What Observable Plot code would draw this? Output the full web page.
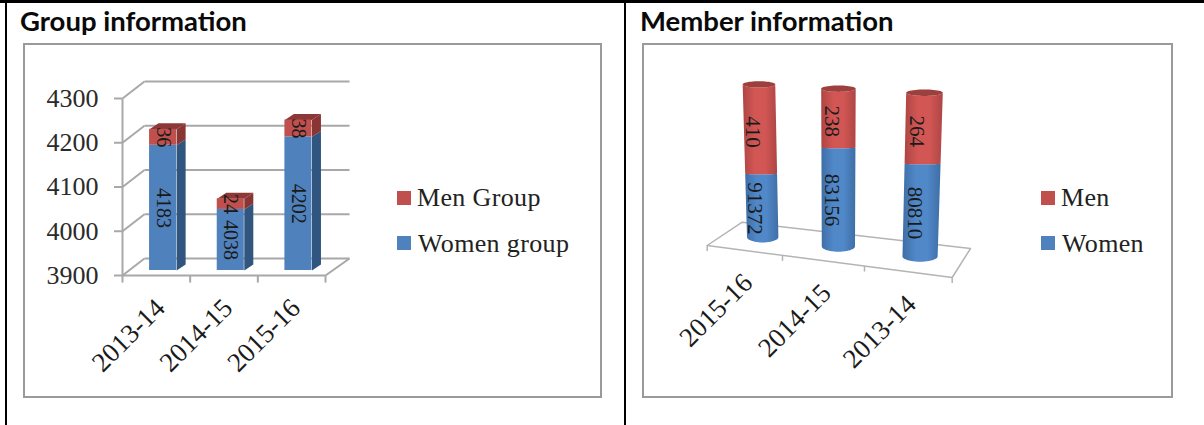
<!DOCTYPE html>
<html>
<head>
<meta charset="utf-8">
<script src="https://cdn.jsdelivr.net/npm/d3@7"></script>
<script src="https://cdn.jsdelivr.net/npm/@observablehq/plot@0.6"></script>
<style>
  html, body { margin: 0; padding: 0; background: #fff; }
  #page { position: relative; width: 1204px; height: 425px; overflow: hidden; background: #fff; }
  .frame { position: absolute; border: 2px solid #9a9a9a; box-sizing: border-box; top: 43px; height: 355px; }
  .rule { position: absolute; background: #000; }
  .title { position: absolute; top: 4px; font: 700 27.5px Lato, "Open Sans", sans-serif; color: #0a0a0a; white-space: nowrap; }
  .swatch { position: absolute; width: 14px; height: 14px; }
  .entry { position: absolute; font: 26px "Liberation Serif", serif; color: #222; letter-spacing: .35px; line-height: 28px; white-space: nowrap; }
  .panel { position: absolute; top: 0; }
  .panel svg { overflow: visible; display: block; }
</style>
</head>
<body>
<div id="page">
  <div class="rule" style="left:0;top:0;width:1204px;height:3px"></div>
  <div class="rule" style="left:5px;top:0;width:2px;height:425px"></div>
  <div class="rule" style="left:624px;top:0;width:2px;height:425px"></div>
  <div class="title" style="left:20px">Group information</div>
  <div class="title" style="left:640px">Member information</div>
  <div class="frame" style="left:23px;width:579px"></div>
  <div class="frame" style="left:642px;width:531px"></div>
  <div class="panel" id="groups" style="left:0"></div>
  <div class="panel" id="members" style="left:626px"></div>
  <div class="swatch" style="left:397px;top:191px;background:#c0504d"></div>
  <div class="entry" style="left:417px;top:184px">Men Group</div>
  <div class="swatch" style="left:397px;top:236px;background:#4f81bd"></div>
  <div class="entry" style="left:418px;top:230px">Women group</div>
  <div class="swatch" style="left:1041px;top:191px;background:#c0504d"></div>
  <div class="entry" style="left:1061px;top:184px">Men</div>
  <div class="swatch" style="left:1041px;top:236px;background:#4f81bd"></div>
  <div class="entry" style="left:1062px;top:230px">Women</div>
</div>
<script>
// Self-help group counts per year
const groupYears = ["2013-14", "2014-15", "2015-16"];
const womenGroups = [4183, 4038, 4202];
const menGroups = [36, 24, 38];
const groupTicks = [3900, 4000, 4100, 4200, 4300];

// Membership per year
const memberYears = ["2015-16", "2014-15", "2013-14"];
const womenMembers = [91372, 83156, 80810];
const menMembers = [410, 238, 264];
// Each cylinder has its own foreshortened height axis: drawn height per member
const womenHeightPerMember = [0.000694, 0.001187, 0.001147];
const menHeightPerMember = [0.2178, 0.2479, 0.2689];

const INK = "#1a1a1a";
const GRID = "#a8a8a8";
const SERIF = "Liberation Serif";

function polygon(id, points) {
  return points.map(([x, y]) => ({id, x, y}));
}

/* ---------- stacked 3D boxes ---------- */
function groupChart() {
  const wallX = 0.325, wallY = 38.4;      // depth of the chart's floor and side wall
  const boxX = 0.133, boxY = 13.5;        // depth of a box
  const shiftX = 0.1, shiftY = 11.3;      // boxes stand part way into the floor
  const half = 0.2;

  const bars = groupYears.map((year, i) => {
    const cx = i + 0.5 + shiftX;
    const w = womenGroups[i], top = w + menGroups[i];
    return {year, cx, left: cx - half, right: cx + half, base: 3900 + shiftY, split: w + shiftY, top: top + shiftY, w, m: menGroups[i]};
  });

  const side = (b, lo, hi) => [[b.right, lo], [b.right + boxX, lo + boxY], [b.right + boxX, hi + boxY], [b.right, hi]];
  const cap = b => [[b.left, b.top], [b.left + boxX, b.top + boxY], [b.right + boxX, b.top + boxY], [b.right, b.top]];

  const blueSides = bars.flatMap((b, i) => polygon("b" + i, side(b, b.base, b.split)));
  const redSides = bars.flatMap((b, i) => polygon("r" + i, side(b, b.split, b.top)));
  const caps = bars.flatMap((b, i) => polygon("c" + i, cap(b)));
  const tickDrop = 16;   // length of the category ticks, in axis units

  return Plot.plot({
    width: 602, height: 425,
    marginLeft: 122, marginRight: 277, marginTop: 98, marginBottom: 150,
    style: {background: "transparent", overflow: "visible"},
    x: {domain: [0, 3], axis: null},
    y: {domain: [3900, 4300], axis: null},
    marks: [
      // back wall lines and wall diagonals
      Plot.link(groupTicks, {x1: () => wallX, x2: () => 3 + wallX + 0.03, y1: d => d + wallY, y2: d => d + wallY, stroke: GRID, strokeWidth: 2}),
      Plot.link(groupTicks, {x1: () => 0, x2: () => wallX, y1: d => d, y2: d => d + wallY, stroke: GRID, strokeWidth: 2}),
      // floor edges
      Plot.link([3900], {x1: () => 0, x2: () => 3, y1: d => d, y2: d => d, stroke: GRID, strokeWidth: 2}),
      Plot.link([3900], {x1: () => 3, x2: () => 3 + wallX + 0.03, y1: d => d, y2: d => d + wallY, stroke: GRID, strokeWidth: 2}),
      Plot.link([0], {x1: d => d, x2: d => d, y1: () => 3900, y2: () => 4300, stroke: GRID, strokeWidth: 2}),
      // category ticks under the floor
      Plot.link([0, 1, 2, 3], {x1: d => d, x2: d => d, y1: () => 3900, y2: () => 3900 - tickDrop, stroke: GRID, strokeWidth: 2}),
      Plot.axisY({ticks: groupTicks, tickSize: 8, tickPadding: 16, stroke: GRID, strokeWidth: 2, fill: "#2a2a2a",
        fontSize: 26, fontFamily: SERIF, tickFormat: d3.format("d")}),
      // box faces
      Plot.line(blueSides, {x: "x", y: "y", z: "id", fill: "#30557f", stroke: "none"}),
      Plot.line(redSides, {x: "x", y: "y", z: "id", fill: "#883533", stroke: "none"}),
      Plot.line(caps, {x: "x", y: "y", z: "id", fill: "#8c3836", stroke: "none"}),
      Plot.rect(bars, {x1: "left", x2: "right", y1: "base", y2: "split", fill: "#4f81bd"}),
      Plot.rect(bars, {x1: "left", x2: "right", y1: "split", y2: "top", fill: "#c0504d"}),
      // values, read sideways along each segment
      Plot.text(bars, {x: "cx", y: d => (d.base + d.split) / 2, text: d => String(d.w), rotate: 90, fontSize: 20, fontFamily: SERIF, fill: INK}),
      Plot.text(bars, {x: "cx", y: d => (d.split + d.top) / 2, text: d => String(d.m), rotate: 90, fontSize: 20, fontFamily: SERIF, fill: INK}),
      // year labels
      Plot.text(bars, {x: d => d.cx - shiftX, y: () => 3900, text: "year", rotate: -45, textAnchor: "end", dx: 4, dy: 28, fontSize: 27, fontFamily: SERIF, fill: INK})
    ]
  });
}

/* ---------- stacked cylinders on a tilted floor ---------- */
function memberChart() {
  const lerp = (a, b, t) => a + (b - a) * t;
  // floor position: u runs along the front edge, v runs front to back
  const floorX = (u, v) => lerp(u, 0.4286 + u * 0.9319, v);
  const floorY = (u, v) => lerp(-10.67 * u, 23.3 - 8.77 * u, v);
  const spacing = d3.scaleLinear([0, 1, 2, 3], [0, 0.922, 1.926, 3]);
  const vanish = 1.595, lean = 0.000327;

  const columns = memberYears.map((year, i) => {
    const u = spacing(i + 0.5);
    const bx = floorX(u, 0.55), by = floorY(u, 0.55);
    const hw = womenMembers[i] * womenHeightPerMember[i];
    const hm = menMembers[i] * menHeightPerMember[i];
    const total = hw + hm;
    const at = h => bx + (bx - vanish) * h * lean;
    const halfWidth = h => (0.184 + 0.012 * bx) * (1 + 0.00025 * h);
    const bow = h => lerp(5.3, 3.2, h / total);
    const arc = (h, depth, n = 24) => d3.range(n + 1).map(k => {
      const a = Math.PI * k / n;
      return [at(h) + Math.cos(a) * halfWidth(h), by + h - Math.sin(a) * depth];
    });
    return {year, u, bx, by, hw, hm, total, at, halfWidth, bow, arc, women: womenMembers[i], men: menMembers[i]};
  });

  const blue = columns.flatMap((c, i) => polygon("w" + i, [...c.arc(0, c.bow(0)), ...c.arc(c.hw, 0.6).reverse()]));
  const red = columns.flatMap((c, i) => polygon("m" + i, [...c.arc(c.hw, 0.6), ...c.arc(c.total, c.bow(c.total)).reverse()]));
  const lids = columns.flatMap((c, i) => polygon("l" + i, [...c.arc(c.total, c.bow(c.total)), ...c.arc(c.total, -c.bow(c.total))]));

  const corners = [[0, 0], [3, 0], [3, 1], [0, 1], [0, 0]].map(([u, v]) => ({x: floorX(u, v), y: floorY(u, v)}));
  const floorTicks = [0, 1, 2, 3].map(i => ({x: floorX(spacing(i), 0), y: floorY(spacing(i), 0)}));

  const gradient = (id, edge, mid) =>
    `<linearGradient id="${id}" x1="0" x2="1" y1="0" y2="0">` +
    `<stop offset="0" stop-color="${edge}"/><stop offset="0.35" stop-color="${mid}"/>` +
    `<stop offset="0.65" stop-color="${mid}"/><stop offset="1" stop-color="${edge}"/></linearGradient>`;
  const defs = () => {
    const g = document.createElementNS("http://www.w3.org/2000/svg", "defs");
    g.innerHTML = gradient("womenFill", "#3f6ea6", "#5088c8") + gradient("menFill", "#ad4644", "#d25654");
    return g;
  };

  return Plot.plot({
    width: 578, height: 425,
    marginLeft: 80.7, marginRight: 252.3, marginTop: 0, marginBottom: 0,
    style: {background: "transparent", overflow: "visible"},
    x: {domain: [0, 3], axis: null},
    y: {domain: [-180, 245], axis: null},
    marks: [
      defs,
      Plot.line(corners, {x: "x", y: "y", stroke: "#b4b4b4", strokeWidth: 1.5}),
      Plot.link(floorTicks, {x1: "x", x2: "x", y1: "y", y2: d => d.y - 5.5, stroke: "#b4b4b4", strokeWidth: 1.5}),
      Plot.line(blue, {x: "x", y: "y", z: "id", fill: "url(#womenFill)", stroke: "none"}),
      Plot.line(red, {x: "x", y: "y", z: "id", fill: "url(#menFill)", stroke: "none"}),
      Plot.line(lids, {x: "x", y: "y", z: "id", fill: "#9d3f3d", stroke: "none"}),
      Plot.text(columns, {x: d => d.at(d.hw / 2), y: d => d.by + d.hw / 2, text: d => String(d.women), rotate: 90, dx: -7, dy: 3, fontSize: 21, fontFamily: SERIF, fill: INK}),
      Plot.text(columns, {x: d => d.at(d.hw + d.hm / 2), y: d => d.by + d.hw + d.hm / 2, text: d => String(d.men), rotate: 90, dx: -7, dy: 3, fontSize: 21, fontFamily: SERIF, fill: INK}),
      Plot.text(columns, {x: d => floorX(d.u, 0), y: d => floorY(d.u, 0), text: "year", rotate: -45, textAnchor: "end", dx: 3, dy: 28, fontSize: 27, fontFamily: SERIF, fill: INK})
    ]
  });
}

document.getElementById("groups").append(groupChart());
document.getElementById("members").append(memberChart());
</script>
</body>
</html>
